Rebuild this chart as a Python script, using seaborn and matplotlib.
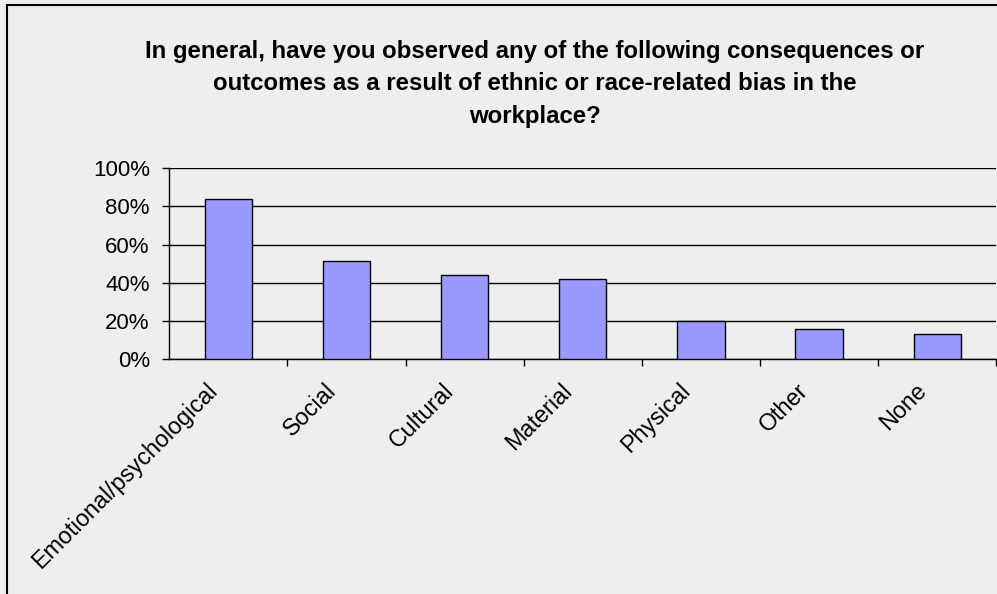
import matplotlib
matplotlib.use("Agg")
import matplotlib.pyplot as plt
import matplotlib.patches as mpatches
import matplotlib.transforms as mtrans
from matplotlib.ticker import FixedLocator, PercentFormatter
import seaborn as sns
import pandas as pd
import numpy as np

categories = ["Emotional/psychological", "Social", "Cultural", "Material",
              "Physical", "Other", "None"]
shares = [84, 51.5, 44, 42, 20, 16, 13]
y_ticks = [0, 20, 40, 60, 80, 100]
title = ("In general, have you observed any of the following consequences or\n"
         "outcomes as a result of ethnic or race-related bias in the\n"
         "workplace?")

df = pd.DataFrame({"category": categories, "share": shares})

sns.set_style("white")
plt.rcParams["font.family"] = ["Liberation Sans", "DejaVu Sans"]

bg = "#EEEEEE"
fig = plt.figure(figsize=(9.97, 5.94), dpi=100, facecolor=bg)
ax = fig.add_axes([169.3 / 997, 1 - 359.3 / 594, (996.3 - 169.3) / 997, (359.3 - 168) / 594])
ax.set_facecolor(bg)

sns.barplot(data=df, x="category", y="share", color="#9999FF", saturation=1,
            edgecolor="black", linewidth=1, width=0.4, ax=ax, zorder=3)

ax.set_ylim(0, 100)
ax.set_xlim(-0.5, len(categories) - 0.5)
ax.yaxis.set_major_locator(FixedLocator(y_ticks))
ax.yaxis.set_major_formatter(PercentFormatter(decimals=0))
ax.grid(axis="y", color="black", linewidth=1, zorder=0)
ax.set_axisbelow(True)

for side in ["top", "right"]:
    ax.spines[side].set_visible(False)
for side in ["left", "bottom"]:
    ax.spines[side].set_color("black")
    ax.spines[side].set_linewidth(1)

ax.set_xlabel("")
ax.set_ylabel("")
ax.tick_params(axis="y", which="major", direction="out", length=5, width=1,
               color="black", labelsize=16, pad=9, left=True,
               labelcolor="black")
ax.tick_params(axis="x", which="major", length=0, labelsize=16.8, pad=14,
               labelcolor="black")
ax.xaxis.set_minor_locator(FixedLocator(np.arange(0.5, len(categories), 1)))
ax.tick_params(axis="x", which="minor", direction="out", length=5, width=1,
               color="black", bottom=True)

ax.set_xticks(range(len(categories)))
ax.set_xticklabels(categories, rotation=45, ha="right", va="top")
offset = mtrans.ScaledTranslation(-6 / 100, 0, fig.dpi_scale_trans)
for lbl in ax.get_xticklabels():
    lbl.set_transform(lbl.get_transform() + offset)

fig.text(535 / 997, 1 - 40 / 594, title, ha="center", va="top",
         fontsize=17.3, fontweight="bold", linespacing=1.52, color="black")

frame = mpatches.Rectangle((7 / 997, -0.05), 1.1, 1 - 5 / 594 + 0.05,
                           transform=fig.transFigure, fill=False,
                           edgecolor="black", linewidth=1.5, clip_on=False)
fig.patches.append(frame)

fig.savefig("out.png", dpi=100, facecolor=bg)
